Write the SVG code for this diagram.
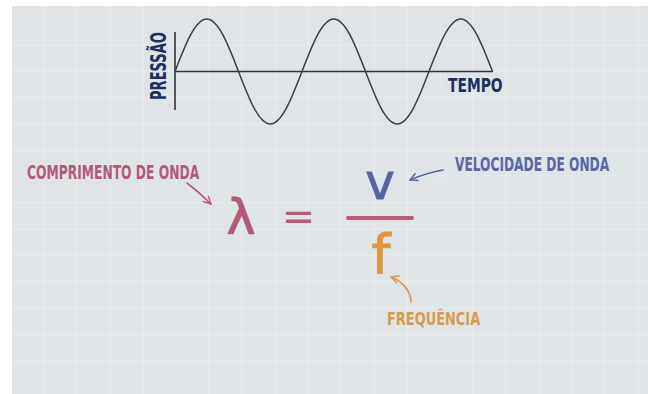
<svg xmlns="http://www.w3.org/2000/svg" width="648" height="394" viewBox="0 0 648 394">
  <defs>
    <style>
      .lbl { font-family: "DejaVu Sans Condensed", "Liberation Sans", sans-serif; font-weight: bold; }
      .math { font-family: "DejaVu Sans", "Liberation Sans", sans-serif; }
      .grid line { stroke: #ffffff; stroke-opacity: 0.28; stroke-width: 1; }
      .wave { fill: none; stroke: #3a3e46; stroke-width: 1.5; }
      .axis { stroke: #2b3340; stroke-width: 1.6; }
      .arrow { fill: none; stroke-width: 1.6; stroke-linecap: round; }
    </style>
    <marker id="hPink" viewBox="0 0 10 10" refX="9" refY="5" markerWidth="9" markerHeight="9" markerUnits="userSpaceOnUse" orient="auto">
      <path d="M1,1 L9,5 L1,9" fill="none" stroke="#b85a7a" stroke-width="1.6" stroke-linecap="round" stroke-linejoin="round"/>
    </marker>
    <marker id="hBlue" viewBox="0 0 10 10" refX="9" refY="5" markerWidth="9" markerHeight="9" markerUnits="userSpaceOnUse" orient="auto">
      <path d="M1,1 L9,5 L1,9" fill="none" stroke="#5665a6" stroke-width="1.6" stroke-linecap="round" stroke-linejoin="round"/>
    </marker>
    <marker id="hOrange" viewBox="0 0 10 10" refX="9" refY="5" markerWidth="9" markerHeight="9" markerUnits="userSpaceOnUse" orient="auto">
      <path d="M1,1 L9,5 L1,9" fill="none" stroke="#d99a48" stroke-width="1.6" stroke-linecap="round" stroke-linejoin="round"/>
    </marker>
  </defs>

  <rect x="0" y="0" width="648" height="394" fill="#ffffff"/>
  <rect x="12" y="6" width="636" height="388" fill="#dfe5e6"/>

  <g class="grid">
    <line x1="44" y1="6" x2="44" y2="394"/>
    <line x1="77" y1="6" x2="77" y2="394"/>
    <line x1="110" y1="6" x2="110" y2="394"/>
    <line x1="143" y1="6" x2="143" y2="394"/>
    <line x1="176" y1="6" x2="176" y2="394"/>
    <line x1="209" y1="6" x2="209" y2="394"/>
    <line x1="242" y1="6" x2="242" y2="394"/>
    <line x1="275" y1="6" x2="275" y2="394"/>
    <line x1="308" y1="6" x2="308" y2="394"/>
    <line x1="341" y1="6" x2="341" y2="394"/>
    <line x1="374" y1="6" x2="374" y2="394"/>
    <line x1="407" y1="6" x2="407" y2="394"/>
    <line x1="440" y1="6" x2="440" y2="394"/>
    <line x1="473" y1="6" x2="473" y2="394"/>
    <line x1="506" y1="6" x2="506" y2="394"/>
    <line x1="539" y1="6" x2="539" y2="394"/>
    <line x1="572" y1="6" x2="572" y2="394"/>
    <line x1="605" y1="6" x2="605" y2="394"/>
    <line x1="638" y1="6" x2="638" y2="394"/>
    <line x1="12" y1="45" x2="648" y2="45"/>
    <line x1="12" y1="71" x2="648" y2="71"/>
    <line x1="12" y1="97" x2="648" y2="97"/>
    <line x1="12" y1="124" x2="648" y2="124"/>
    <line x1="12" y1="150" x2="648" y2="150"/>
    <line x1="12" y1="176" x2="648" y2="176"/>
    <line x1="12" y1="203" x2="648" y2="203"/>
    <line x1="12" y1="229" x2="648" y2="229"/>
    <line x1="12" y1="255" x2="648" y2="255"/>
    <line x1="12" y1="282" x2="648" y2="282"/>
    <line x1="12" y1="308" x2="648" y2="308"/>
    <line x1="12" y1="334" x2="648" y2="334"/>
    <line x1="12" y1="361" x2="648" y2="361"/>
  </g>

  <g id="graph">
    <line class="axis" x1="175" y1="32" x2="175" y2="110" stroke-width="2"/>
    <line class="axis" x1="175" y1="71.5" x2="493" y2="71.5"/>
    <path class="wave" d="M175,71.5
      c10.35,-26.9 20.26,-52.5 31.75,-52.5 c11.49,0 21.4,25.6 31.75,52.5
      c10.35,26.9 20.26,52.5 31.75,52.5 c11.49,0 21.4,-25.6 31.75,-52.5
      c10.35,-26.9 20.26,-52.5 31.75,-52.5 c11.49,0 21.4,25.6 31.75,52.5
      c10.35,26.9 20.26,52.5 31.75,52.5 c11.49,0 21.4,-25.6 31.75,-52.5
      c10.35,-26.9 20.26,-52.5 31.75,-52.5 c11.49,0 21.4,25.6 31.75,52.5"/>
    <text class="lbl" transform="translate(166,66) rotate(-90) scale(0.66,1)" x="0" y="0" text-anchor="middle" font-size="22" fill="#1d2f5e">PRESSÃO</text>
    <text class="lbl" transform="translate(448,92) scale(0.81,1)" x="0" y="0" font-size="19" fill="#1d2f5e">TEMPO</text>
  </g>

  <g id="lambda">
    <text class="lbl" transform="translate(27,179) scale(0.72,1)" x="0" y="0" font-size="19" fill="#b5597a">COMPRIMENTO DE ONDA</text>
    <text class="math" x="241" y="234" text-anchor="middle" font-size="48" fill="#b4587a" stroke="#b4587a" stroke-width="1.2">λ</text>
  </g>

  <g id="equals">
    <text class="math" x="298.5" y="230" text-anchor="middle" font-size="40" fill="#b85a7a">=</text>
  </g>

  <g id="fraction">
    <text class="math" x="380" y="199" text-anchor="middle" font-size="50" fill="#5564a6" stroke="#5564a6" stroke-width="0.8">v</text>
    <line x1="348" y1="218" x2="412" y2="218" stroke="#b85a7a" stroke-width="4" stroke-linecap="round"/>
    <text class="math" x="381" y="273" text-anchor="middle" font-size="54" fill="#e0963a" stroke="#e0963a" stroke-width="0.8">f</text>
  </g>

  <g id="velocidade">
    <text class="lbl" transform="translate(455,171) scale(0.715,1)" x="0" y="0" font-size="19" fill="#5867a8">VELOCIDADE DE ONDA</text>
  </g>

  <g id="frequencia">
    <text class="lbl" transform="translate(387,325) scale(0.8,1)" x="0" y="0" font-size="18" fill="#d99b4b">FREQUÊNCIA</text>
  </g>

  <g id="connectors">
    <path class="arrow" d="M187,183 Q199,192 211,204" stroke="#b85a7a" marker-end="url(#hPink)"/>
    <path class="arrow" d="M443,170 Q426,173 410,180" stroke="#5665a6" marker-end="url(#hBlue)"/>
    <path class="arrow" d="M411,302 C411,291 402,281 391,277" stroke="#d99a48" marker-end="url(#hOrange)"/>
  </g>
</svg>
